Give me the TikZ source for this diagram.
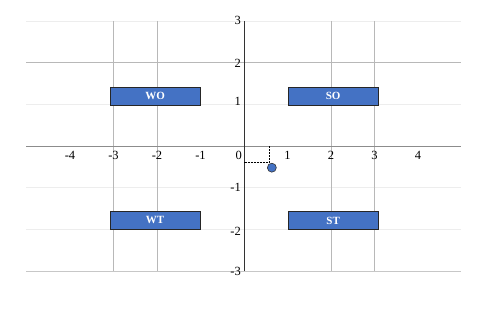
\documentclass[tikz,border=0pt]{standalone}
\usepackage{fontspec}
\setmainfont{Liberation Serif}
\definecolor{boxblue}{HTML}{4472C4}
\begin{document}
\begin{tikzpicture}[x=43.5pt,y=41.7pt,
  faintline/.style={draw=black!7, line width=0.6pt},
  gridline/.style={draw=black!28, line width=0.6pt},
  quad/.style={draw=black!85, line width=0.7pt, fill=boxblue, text=white,
    font=\bfseries\fontsize{11}{12}\selectfont, inner sep=0pt,
    minimum width=90pt, minimum height=18pt},
  tick/.style={font=\fontsize{12.5}{13}\selectfont, inner sep=0pt},
  ytick/.style={tick, anchor=east}]
\useasboundingbox (-244pt,-170pt) rectangle (236pt,146pt);
% horizontal lines
\draw[faintline] (-5,3) -- (5,3);
\draw[faintline] (-5,1) -- (5,1);
\draw[faintline] (-5,-1) -- (5,-1);
\draw[faintline] (-5,-2) -- (5,-2);
\draw[gridline] (-5,2) -- (5,2);
\draw[draw=black!22, line width=0.9pt] (-5,-3) -- (5,-3);
% vertical lines
\foreach \x in {-3,-2,2,3} \draw[gridline] (\x,3) -- (\x,-3);
% axes
\draw[draw=black!45, line width=1pt] (-5,0) -- (5,0);
\draw[black!80, line width=0.6pt] (0,3) -- (0,-3);
% boxes
\node[quad] (wo) at (-2.045,1.195) {WO};
\node[quad] (so) at (2.05,1.195) {SO};
\node[quad] (wt) at (-2.045,-1.785) {WT};
\node[quad] (st) at (2.05,-1.785) {ST};
% point
\coordinate (xa) at (0.59,0);
\coordinate (c) at (0.59,-0.40);
\coordinate (ya) at (0,-0.40);
\draw[black, line width=0.8pt, dash pattern=on 2pt off 1pt] (xa) -- (c) -- (ya);
\node[circle, fill=boxblue, draw=black!80, line width=0.6pt, minimum size=9pt, inner sep=0pt] (pt) at (0.64,-0.52) {};
% x tick labels
\node[tick] (xm4) at (-4,-0.228) {-4};
\node[tick] (xm3) at (-3,-0.228) {-3};
\node[tick] (xm2) at (-2,-0.228) {-2};
\node[tick] (xm1) at (-1,-0.228) {-1};
\node[tick] (x0) at (-0.12,-0.228) {0};
\node[tick] (x1) at (1,-0.228) {1};
\node[tick] (x2) at (2,-0.228) {2};
\node[tick] (x3) at (3,-0.228) {3};
\node[tick] (x4) at (4,-0.228) {4};
% y tick labels
\node[ytick] (y3) at (-0.07,3.02) {3};
\node[ytick] (y2) at (-0.07,1.99) {2};
\node[ytick] (y1) at (-0.07,1.08) {1};
\node[ytick] (ym1) at (-0.07,-1.0) {-1};
\node[ytick] (ym2) at (-0.07,-2.04) {-2};
\node[ytick] (ym3) at (-0.07,-3.0) {-3};
\end{tikzpicture}
\end{document}
